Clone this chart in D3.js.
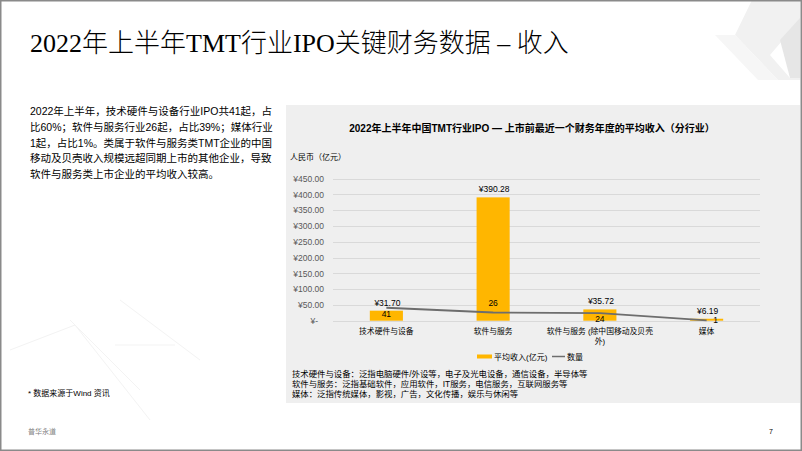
<!DOCTYPE html>
<html>
<head>
<meta charset="utf-8">
<script src="https://cdn.jsdelivr.net/npm/d3@7"></script>
<style>
  html, body { margin: 0; padding: 0; background: #fff; }
  svg { display: block; font-family: "Liberation Sans", "Noto Sans CJK SC", sans-serif; }
</style>
</head>
<body>
<div id="slide"></div>
<script>
// chart data
var categories = ["技术硬件与设备", "软件与服务", "软件与服务 (除中国移动及贝壳外)", "媒体"];
var avgRevenue = [31.70, 390.28, 35.72, 6.19];   // 平均收入(亿元)
var ipoCount = [41, 26, 24, 1];                   // 数量
var yTicks = [0, 50, 100, 150, 200, 250, 300, 350, 400, 450];
// where each count label sits relative to its point
var countLabelPos = ["below", "above", "below", "right"];

var introLines = [
  "2022年上半年，技术硬件与设备行业IPO共41起，占",
  "比60%；软件与服务行业26起，占比39%；媒体行业",
  "1起，占比1%。类属于软件与服务类TMT企业的中国",
  "移动及贝壳收入规模远超同期上市的其他企业，导致",
  "软件与服务类上市企业的平均收入较高。"
];
var noteLines = [
  "技术硬件与设备：泛指电脑硬件/外设等，电子及光电设备，通信设备，半导体等",
  "软件与服务：泛指基础软件，应用软件，IT服务，电信服务，互联网服务等",
  "媒体：泛指传统媒体，影视，广告，文化传播，娱乐与休闲等"
];

var W = 802, H = 451;
var svg = d3.select("#slide").append("svg")
  .attr("width", W)
  .attr("height", H);

// slide background + faint decoration
svg.append("rect").attr("width", W).attr("height", H).attr("fill", "#fff");
var deco = svg.append("g").attr("fill", "#f1f1f1");
deco.append("polygon").attr("points", "752,0 800,0 800,20 770,55 790,78 800,78 800,80 778,80 735,35");
deco.append("polygon").attr("points", "780,40 800,18 800,78 790,78").attr("fill", "#e6e6e6");
deco.append("polygon").attr("points", "715,35 735,35 778,80 758,80").attr("fill", "#f6f6f6");
var decoLines = svg.append("g").attr("stroke", "#f3f3f3").attr("stroke-width", 1).attr("fill", "none");
decoLines.append("path").attr("d", "M10,350 L75,325 L150,420");
decoLines.append("path").attr("d", "M70,320 L140,390 M115,345 L175,345 M120,300 L200,360");

// title
svg.append("text")
  .attr("x", 30).attr("y", 52)
  .style("font-family", "'Liberation Serif', 'Noto Sans CJK SC', serif")
  .style("font-size", "26px")
  .style("font-weight", "300")
  .attr("fill", "#000")
  .text("2022年上半年TMT行业IPO关键财务数据 – 收入");

// intro text
svg.append("g").selectAll("text")
  .data(introLines)
  .enter().append("text")
    .attr("x", 30)
    .attr("y", function (d, i) { return 115 + i * 15.8; })
    .style("font-size", "10.5px")
    .attr("fill", "#000")
    .text(function (d) { return d; });

svg.append("text").attr("x", 28).attr("y", 396)
  .style("font-size", "8px").attr("fill", "#000")
  .text("* 数据来源于Wind 资讯");
svg.append("text").attr("x", 28).attr("y", 434)
  .style("font-size", "7px").attr("fill", "#7f7f7f")
  .text("普华永道");
svg.append("text").attr("x", 769).attr("y", 434)
  .style("font-size", "7px").attr("fill", "#000")
  .text("7");

// chart panel
svg.append("rect")
  .attr("x", 286).attr("y", 105)
  .attr("width", 514).attr("height", 298)
  .attr("fill", "#efefef");

svg.append("text")
  .attr("x", 532).attr("y", 132)
  .attr("text-anchor", "middle")
  .style("font-size", "10px").style("font-weight", "bold")
  .attr("fill", "#000")
  .text("2022年上半年中国TMT行业IPO — 上市前最近一个财务年度的平均收入（分行业）");

svg.append("text")
  .attr("x", 290).attr("y", 160)
  .style("font-size", "8px").attr("fill", "#000")
  .text("人民币（亿元）");

// scales
var x = d3.scalePoint()
  .domain(categories)
  .range([333, 760])
  .padding(0.5);
var barW = x.step() * 0.31;

var y = d3.scaleLinear()
  .domain([0, 450])
  .range([320.7, 178.5]);

// gridlines
svg.append("g")
  .selectAll("line")
  .data(yTicks)
  .enter().append("line")
    .attr("x1", 333).attr("x2", 760)
    .attr("y1", function (d) { return Math.round(y(d)) + 0.5; })
    .attr("y2", function (d) { return Math.round(y(d)) + 0.5; })
    .attr("stroke", "#d9d9d9").attr("stroke-width", 1);

// y axis (labels only)
var yAxis = svg.append("g")
  .attr("transform", "translate(333,0)")
  .call(d3.axisLeft(y).tickValues(yTicks).tickSize(0).tickPadding(9)
    .tickFormat(function (d) { return d === 0 ? "¥-" : "¥" + d3.format(".2f")(d); }));
yAxis.select(".domain").remove();
yAxis.selectAll("text")
  .style("font-size", "8.5px")
  .style("font-family", "'Liberation Sans', sans-serif")
  .attr("fill", "#595959")
  .attr("dx", function (d) { return d === 0 ? -6 : 0; });

// bars
var data = categories.map(function (c, i) {
  return { cat: c, rev: avgRevenue[i], n: ipoCount[i], pos: countLabelPos[i] };
});

svg.append("g").selectAll("rect")
  .data(data)
  .enter().append("rect")
    .attr("x", function (d) { return x(d.cat) - barW / 2; })
    .attr("width", barW)
    .attr("y", function (d) { return y(d.rev); })
    .attr("height", function (d) { return y(0) - y(d.rev); })
    .attr("fill", "#ffb600");

// bar value labels
svg.append("g").selectAll("text")
  .data(data)
  .enter().append("text")
    .attr("x", function (d) { return x(d.cat) + 1; })
    .attr("y", function (d) { return y(d.rev) - 5; })
    .attr("text-anchor", "middle")
    .style("font-size", "8.5px")
    .attr("fill", "#000")
    .text(function (d) { return "¥" + d3.format(".2f")(d.rev); });

// count line (same scale as revenue)
var line = d3.line()
  .x(function (d) { return x(d.cat); })
  .y(function (d) { return y(d.n); });

svg.append("path")
  .datum(data)
  .attr("d", line)
  .attr("fill", "none")
  .attr("stroke", "#6d6d6d")
  .attr("stroke-width", 1.8);

svg.append("g").selectAll("text")
  .data(data)
  .enter().append("text")
    .attr("x", function (d) { return d.pos === "right" ? x(d.cat) + 9 : x(d.cat); })
    .attr("y", function (d) {
      if (d.pos === "above") return y(d.n) - 6;
      if (d.pos === "right") return y(d.n) + 3;
      return y(d.n) + 9;
    })
    .attr("text-anchor", "middle")
    .style("font-size", "8.5px")
    .attr("fill", "#000")
    .text(function (d) { return d.n; });

// category labels, wrapped
var catG = svg.append("g").selectAll("text")
  .data(categories)
  .enter().append("text")
    .attr("x", function (d) { return x(d); })
    .attr("y", 334)
    .attr("text-anchor", "middle")
    .style("font-size", "7.8px")
    .attr("fill", "#000");

catG.each(function (d) {
  var el = d3.select(this);
  var chars = d.split(""), lineStr = "";
  var tspan = el.append("tspan").attr("x", x(d)).attr("dy", 0);
  chars.forEach(function (ch) {
    tspan.text(lineStr + ch);
    if (tspan.node().getComputedTextLength() > 108 && lineStr.length) {
      tspan.text(lineStr);
      lineStr = ch;
      tspan = el.append("tspan").attr("x", x(d)).attr("dy", 10).text(ch);
    } else {
      lineStr += ch;
    }
  });
});

// legend
var lg = svg.append("g");
lg.append("rect").attr("x", 477).attr("y", 354.5).attr("width", 15).attr("height", 4).attr("fill", "#ffb600");
lg.append("text").attr("x", 494).attr("y", 359.5).style("font-size", "8px").attr("fill", "#000").text("平均收入(亿元)");
lg.append("line").attr("x1", 552).attr("x2", 565).attr("y1", 356.5).attr("y2", 356.5)
  .attr("stroke", "#6d6d6d").attr("stroke-width", 1.5);
lg.append("text").attr("x", 567).attr("y", 359.5).style("font-size", "8px").attr("fill", "#000").text("数量");

// notes
svg.append("g").selectAll("text")
  .data(noteLines)
  .enter().append("text")
    .attr("x", 292)
    .attr("y", function (d, i) { return 376.5 + i * 10; })
    .style("font-size", "8.4px")
    .attr("fill", "#000")
    .text(function (d) { return d; });

// slide frame
svg.append("rect")
  .attr("x", 0.75).attr("y", 0.75)
  .attr("width", W - 1.5).attr("height", H - 1.5)
  .attr("fill", "none").attr("stroke", "#8a8a8a").attr("stroke-width", 1.5);
</script>
</body>
</html>
